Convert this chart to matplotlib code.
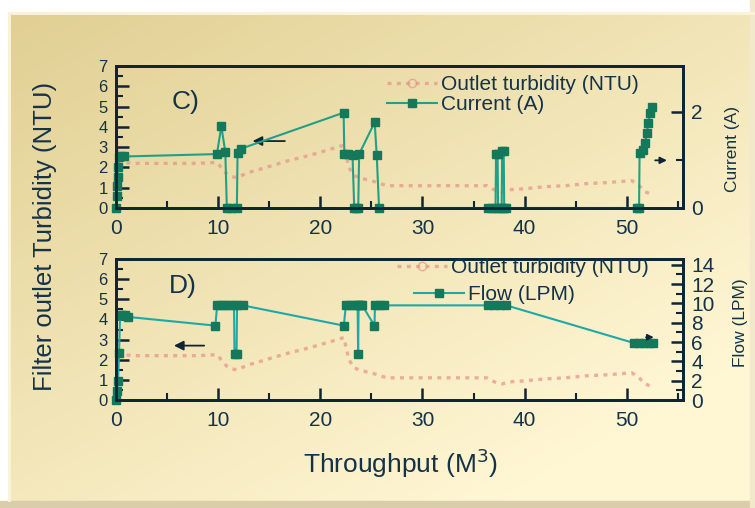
import numpy as np
import matplotlib
matplotlib.use('Agg')
import matplotlib.pyplot as plt
from matplotlib.lines import Line2D
from matplotlib.ticker import MultipleLocator

plt.rcParams['font.family'] = ['Liberation Sans', 'DejaVu Sans']

# ── data ─────────────────────────────────────────────────────────
# outlet turbidity (NTU), same series in both panels
turb_x = [0, 0.1, 0.3, 0.5, 2, 4, 6, 8, 9.9, 10.3, 10.8, 11.3, 11.8, 13, 15, 17, 19,
          21, 22.3, 22.8, 23.3, 23.8, 24.5, 25.3, 26.5, 28, 30, 32, 34, 36.3, 36.8,
          37.3, 37.8, 38.5, 40, 42, 44, 46, 48, 50.5, 51.2, 51.8, 52.5]
turb_y = [3.8, 3.0, 2.5, 2.25, 2.2, 2.2, 2.2, 2.2, 2.25, 2.0, 1.7, 1.55, 1.5, 1.75,
          2.05, 2.35, 2.6, 2.9, 3.1, 2.0, 1.6, 1.5, 1.4, 1.3, 1.1, 1.1, 1.1, 1.1, 1.1,
          1.1, 0.95, 0.85, 0.8, 0.9, 0.95, 1.05, 1.1, 1.2, 1.25, 1.35, 1.1, 0.8, 0.65]

# current (A), panel C
cur_x = [0, 0.05, 0.1, 0.15, 0.2, 0.3, 0.5, 0.8, 9.88, 10.31, 10.7, 10.85, 11.3,
         11.83, 11.9, 12.21, 22.28, 22.35, 22.7, 23.15, 23.32, 23.5, 23.71, 23.8,
         25.32, 25.52, 25.75, 36.4, 36.8, 37.15, 37.2, 37.35, 37.4, 37.75, 37.8,
         37.95, 38.0, 38.2, 51.0, 51.2, 51.25, 51.6, 51.8, 51.95, 52.1, 52.3, 52.45]
cur_y = [0, 0.24, 0.45, 0.65, 0.86, 1.05, 1.07, 1.07, 1.12, 1.70, 1.16, 0, 0,
         0, 1.15, 1.23, 1.98, 1.12, 1.12, 1.10, 0, 0, 0, 1.12,
         1.78, 1.10, 0, 0, 0, 0, 1.12, 1.12, 0, 0, 1.18,
         1.18, 0, 0, 0, 0, 1.14, 1.21, 1.35, 1.55, 1.76, 1.97, 2.1]

# flow (LPM), panel D
flow_x = [0, 0.1, 0.2, 0.3, 0.4, 0.6, 0.9, 1.2, 9.73, 9.9, 10.3, 10.7, 11.1, 11.55,
          11.6, 11.8, 11.85, 12.4, 22.3, 22.5, 22.9, 23.3, 23.65, 23.7, 23.75, 24.0,
          24.1, 25.3, 25.35, 25.8, 26.2, 36.4, 37.0, 37.6, 38.2, 50.7, 51.2, 51.7,
          52.2, 52.6]
flow_y = [0, 0.9, 2.0, 4.9, 8.8, 8.8, 8.8, 8.6, 7.7, 9.8, 9.8, 9.8, 9.8, 9.8,
          4.8, 4.8, 9.8, 9.8, 7.7, 9.8, 9.8, 9.8, 9.8, 4.8, 9.8, 9.8,
          9.8, 7.7, 9.8, 9.8, 9.8, 9.8, 9.8, 9.8, 9.8, 5.9, 5.9, 5.9,
          5.9, 5.9]

# ── style ────────────────────────────────────────────────────────
W, H = 755, 508
TXT = '#143349'
SPN = '#0F2535'
TURB = '#E5928A'
CUR_LN = '#20A088'
FLOW_LN = '#1FA8A8'
MRK = '#14785A'
TURB_LS = (0, (1.2, 1.6))

fig = plt.figure(figsize=(W / 100, H / 100), dpi=100)

# background gradient + frame
bg = fig.add_axes([0, 0, 1, 1], zorder=-10)
yy, xx = np.mgrid[0:1:200j, 0:1:300j]
t = np.clip(0.55 * xx + 0.65 * yy, 0, 1)
c0 = np.array([0.88, 0.81, 0.57])
c1 = np.array([1.00, 0.965, 0.83])
img = c0[None, None, :] * (1 - t[..., None]) + c1[None, None, :] * t[..., None]
bg.imshow(img, extent=[0, W, H, 0], aspect='auto', interpolation='bilinear')
bg.fill_between([0, W], 0, 11, color='white')
bg.fill_between([0, 7], 0, H, color='white')
bg.fill_between([0, W], 501, H, color='#D9CDAA')
bg.fill_between([750, W], 0, H, color='#F2E9CC')
bg.plot([9, W], [13, 13], color='#FBF4DC', lw=2)
bg.plot([9, 9], [13, 500], color='#FBF4DC', lw=2)
bg.set_xlim(0, W)
bg.set_ylim(H, 0)
bg.axis('off')


def style(ax, axr, rmax):
    ax.set_facecolor('none')
    ax.set_xlim(0, 55.5)
    ax.set_ylim(0, 7)
    axr.set_ylim(0, rmax)
    ax.xaxis.set_major_locator(MultipleLocator(10))
    ax.xaxis.set_minor_locator(MultipleLocator(5))
    ax.yaxis.set_major_locator(MultipleLocator(1))
    ax.yaxis.set_minor_locator(MultipleLocator(0.5))
    axr.yaxis.set_major_locator(MultipleLocator(2))
    axr.yaxis.set_minor_locator(MultipleLocator(1))
    for a in (ax, axr):
        for s in a.spines.values():
            s.set_color(SPN)
            s.set_linewidth(2)
        a.tick_params(which='major', direction='in', length=9, width=1.8,
                      color=SPN, labelcolor=TXT)
        a.tick_params(which='minor', direction='in', length=5, width=1.5,
                      color=SPN)
    ax.tick_params(axis='y', labelsize=12, pad=6)
    ax.tick_params(axis='x', labelsize=15, pad=8)
    axr.tick_params(axis='y', labelsize=15, pad=6)


# ── panel C ──────────────────────────────────────────────────────
ax1 = fig.add_axes([116 / W, 1 - 208 / H, 567 / W, 142 / H])
ax1r = ax1.twinx()
style(ax1, ax1r, 2.95)
ax1.plot(turb_x, turb_y, color=TURB, ls=TURB_LS, lw=2.4, alpha=0.7)
ax1r.plot(cur_x, cur_y, color=CUR_LN, lw=1.5, marker='s', ms=5.5,
          mfc=MRK, mec=MRK, clip_on=False)
ax1.text(0.123, 0.75, 'C)', transform=ax1.transAxes, fontsize=19,
         color=TXT, ha='center', va='center')
ax1.annotate('', xy=(13.1, 3.3), xytext=(16.8, 3.3),
             arrowprops=dict(arrowstyle='-|>', color=SPN, lw=1.3, mutation_scale=14))
ax1r.annotate('', xy=(54.2, 0.99), xytext=(52.5, 0.99),
              arrowprops=dict(arrowstyle='-|>', color=SPN, lw=1.3, mutation_scale=10))
ax1r.set_ylabel('Current (A)', fontsize=12.5, color=TXT)
ax1r.yaxis.set_label_coords((725 - 116) / 567, (208 - 149) / 142)

h_turb = Line2D([], [], color=TURB, ls=TURB_LS, lw=2.4, marker='o',
                ms=6, mfc='none', mec=TURB, alpha=0.7)
h_cur = Line2D([], [], color=CUR_LN, lw=1.5, marker='s', ms=5.5, mfc=MRK, mec=MRK)
ax1r.legend([h_turb, h_cur], ['Outlet turbidity (NTU)', 'Current (A)'],
            loc='upper left', bbox_to_anchor=(387 / W, 1 - 75 / H),
            bbox_transform=fig.transFigure, frameon=False, fontsize=15,
            borderpad=0, borderaxespad=0, handlelength=2.4,
            handletextpad=0.2, labelspacing=0.05, labelcolor=TXT)

# ── panel D ──────────────────────────────────────────────────────
ax2 = fig.add_axes([116 / W, 1 - 400 / H, 567 / W, 141 / H])
ax2r = ax2.twinx()
style(ax2, ax2r, 14.6)
ax2.plot(turb_x, turb_y, color=TURB, ls=TURB_LS, lw=2.4, alpha=0.7)
ax2r.plot(flow_x, flow_y, color=FLOW_LN, lw=1.5, marker='s', ms=5.5,
          mfc=MRK, mec=MRK, clip_on=False)
ax2.text(0.117, 0.81, 'D)', transform=ax2.transAxes, fontsize=19,
         color=TXT, ha='center', va='center')
ax2.annotate('', xy=(5.4, 2.7), xytext=(8.9, 2.7),
             arrowprops=dict(arrowstyle='-|>', color=SPN, lw=1.3, mutation_scale=14))
ax2r.annotate('', xy=(52.9, 6.5), xytext=(51.6, 6.5),
              arrowprops=dict(arrowstyle='-|>', color=SPN, lw=1.2, mutation_scale=9))
ax2r.set_ylabel('Flow (LPM)', fontsize=12.5, color=TXT)
ax2r.yaxis.set_label_coords((733 - 116) / 567, (400 - 323) / 141)

h_flow = Line2D([], [], color=FLOW_LN, lw=1.5, marker='s', ms=5.5, mfc=MRK, mec=MRK)
leg_a = ax2r.legend([h_turb], ['Outlet turbidity (NTU)'],
                    loc='upper left', bbox_to_anchor=(397 / W, 1 - 258 / H),
                    bbox_transform=fig.transFigure, frameon=False, fontsize=15,
                    borderpad=0, borderaxespad=0, handlelength=2.4,
                    handletextpad=0.2, labelcolor=TXT)
ax2r.add_artist(leg_a)
ax2r.legend([h_flow], ['Flow (LPM)'],
            loc='upper left', bbox_to_anchor=(414 / W, 1 - 285 / H),
            bbox_transform=fig.transFigure, frameon=False, fontsize=15,
            borderpad=0, borderaxespad=0, handlelength=2.4,
            handletextpad=0.2, labelcolor=TXT)

# ── shared labels ────────────────────────────────────────────────
fig.text(45 / W, 1 - 236 / H, 'Filter outlet Turbidity (NTU)', rotation=90,
         fontsize=18.5, color=TXT, ha='center', va='center')
fig.text(400 / W, 1 - 463 / H, 'Throughput (M$^3$)', fontsize=19,
         color=TXT, ha='center', va='center')

plt.savefig('out.png', dpi=100)
